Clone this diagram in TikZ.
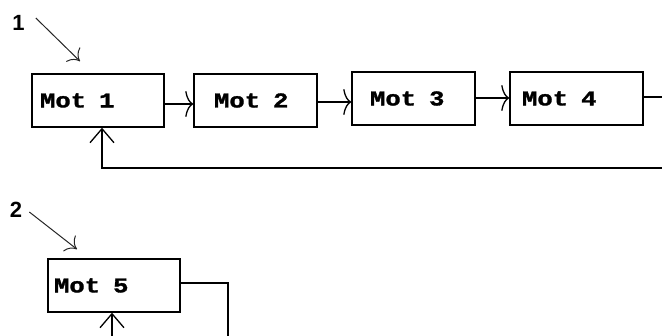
\documentclass[tikz,border=0pt]{standalone}
\usepackage{fontspec}
\newfontfamily\boxfont{Liberation Mono Bold}[FakeStretch=1.22, FakeBold=1.5]
\newfontfamily\tagfont{Liberation Sans}
\usetikzlibrary{arrows.meta}
% wider gap between the word and the number, as in a terminal font
\newcommand\numgap{\hspace{6pt}}

\begin{document}
\begin{tikzpicture}[x=1pt,y=-1pt,
  mot/.style 2 args={draw, line width=1.5pt, minimum height=53pt,
    inner ysep=0pt, inner xsep=#1, text width=#2, align=left,
    font=\boxfont\fontsize{21}{21}\selectfont},
  wire/.style={line width=1.3pt},
  flow/.style={wire, -{To[length=8pt,width=26pt]}},
  back/.style={wire, -{Straight Barb[length=14pt,width=24pt]}},
  pointer/.style={line width=1pt, draw=black!85, -{To[length=10pt,width=20pt]}},
  tag/.style={font=\tagfont\bfseries\fontsize{22}{22}\selectfont, inner sep=0pt}
]
\useasboundingbox (0,0) rectangle (662,336);

% chain of motors
\node[mot={8pt}{116pt}]  (m1) at (98,100.5)  {Mot \numgap1};
\node[mot={20pt}{83pt}]  (m2) at (255.5,100.5) {Mot \numgap2};
\node[mot={18pt}{87pt}]  (m3) at (413.5,98.5) {Mot \numgap3};
\node[mot={12pt}{109pt}] (m4) at (576.5,98.5) {Mot \numgap4};
\node[mot={6pt}{120pt}]  (m5) at (114,285.5)  {Mot \numgap5};

% case labels
\node[tag] (t1) at (18.5,22.5)  {1};
\node[tag] (t2) at (16,210) {2};

% open ends at the picture border
\coordinate (edge1) at (662,97);
\coordinate (edge2) at (662,168);
\coordinate (edge3) at (228,336);
\coordinate (edge4) at (112,336);

% pointers from the labels
\draw[pointer] ([shift={(11,-4.5)}]t1.east) -- ([shift={(-18,-12)}]m1.north);
\draw[pointer] ([shift={(7,2)}]t2.east) -- ([shift={(-37,-9)}]m5.north);

% forward links
\draw[flow] ([yshift=-3.5pt]m1.east) -- ([yshift=-3.5pt]m2.west);
\draw[flow] ([yshift=-1.5pt]m2.east) -- ([yshift=-3.5pt]m3.west);
\draw[flow] ([yshift=0.5pt]m3.east) -- ([yshift=0.5pt]m4.west);
\draw[wire] ([yshift=1.5pt]m4.east) -- (edge1);

% feedback to the first motor
\draw[back] (edge2) -| ([xshift=4pt]m1.south);

% second loop
\draw[wire] ([yshift=2.5pt]m5.east) -| (edge3);
\draw[back] (edge4) -- (edge4 |- m5.south);
\end{tikzpicture}
\end{document}
